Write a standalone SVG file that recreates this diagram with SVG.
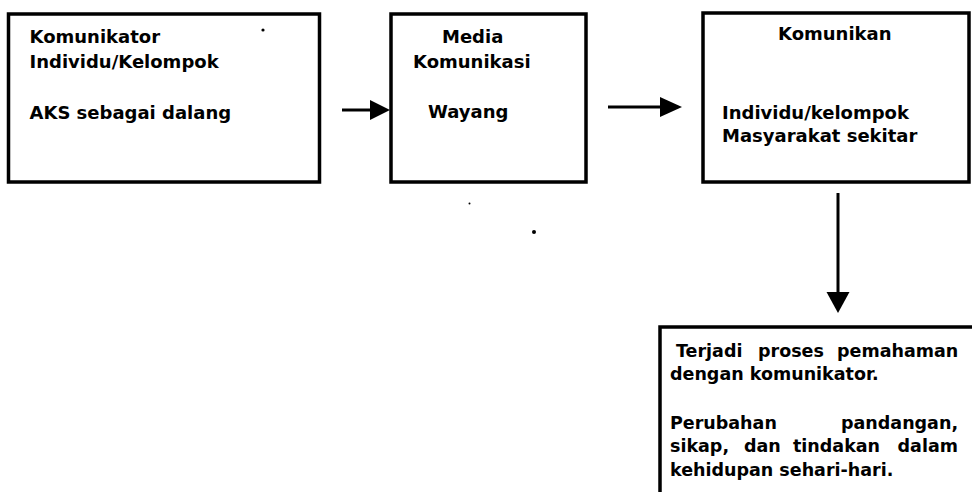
<svg xmlns="http://www.w3.org/2000/svg" width="972" height="492" viewBox="0 0 972 492">
<defs>
<style>
.box{fill:#fff;stroke:#000;stroke-width:3.5}
.t{font-family:"DejaVu Sans","Liberation Sans",sans-serif;font-weight:bold;font-size:18px;fill:#000}
.tb{font-family:"DejaVu Sans","Liberation Sans",sans-serif;font-weight:bold;font-size:17.5px;fill:#000}
.ln{stroke:#000;stroke-width:3;fill:none}
.hd{fill:#000}
.dot{fill:#000}
</style>
</defs>
<rect width="972" height="492" fill="#fff"/>
<g id="komunikator">
<rect class="box" x="8.5" y="14" width="311" height="168"/>
<text class="t" x="29.5" y="43">Komunikator</text>
<text class="t" x="29.5" y="68">Individu/Kelompok</text>
<text class="t" x="29.5" y="119">AKS sebagai dalang</text>
</g>
<g id="media">
<rect class="box" x="391" y="14" width="195" height="168"/>
<text class="t" x="442" y="43">Media</text>
<text class="t" x="413" y="68">Komunikasi</text>
<text class="t" x="428" y="118">Wayang</text>
</g>
<g id="komunikan">
<rect class="box" x="703" y="13" width="266" height="169"/>
<text class="t" x="778" y="40">Komunikan</text>
<text class="t" x="722" y="119">Individu/kelompok</text>
<text class="t" x="722" y="142">Masyarakat sekitar</text>
</g>
<g id="hasil">
<rect class="box" x="660" y="327" width="330" height="200"/>
<text class="tb" y="357"><tspan x="676">Terjadi</tspan> <tspan x="758">proses</tspan> <tspan x="837">pemahaman</tspan></text>
<text class="tb" x="670" y="380">dengan komunikator.</text>
<text class="tb" y="429"><tspan x="670">Perubahan</tspan> <tspan x="841">pandangan,</tspan></text>
<text class="tb" y="452"><tspan x="670">sikap,</tspan> <tspan x="744">dan</tspan> <tspan x="793">tindakan</tspan> <tspan x="897.6">dalam</tspan></text>
<text class="tb" x="670" y="476">kehidupan sehari-hari.</text>
</g>
<g id="connectors">
<line class="ln" x1="342" y1="110" x2="372" y2="110"/>
<polygon class="hd" points="370,100 390,110 370,120"/>
<line class="ln" x1="608" y1="107" x2="662" y2="107"/>
<polygon class="hd" points="660,97 682,107 660,117"/>
<line class="ln" x1="838" y1="193" x2="838" y2="294"/>
<polygon class="hd" points="826.5,292 849.5,292 838,313"/>
</g>
<circle class="dot" cx="263" cy="30" r="1.6"/>
<circle class="dot" cx="469.5" cy="203.5" r="1"/>
<circle class="dot" cx="534" cy="232" r="2"/>
</svg>
